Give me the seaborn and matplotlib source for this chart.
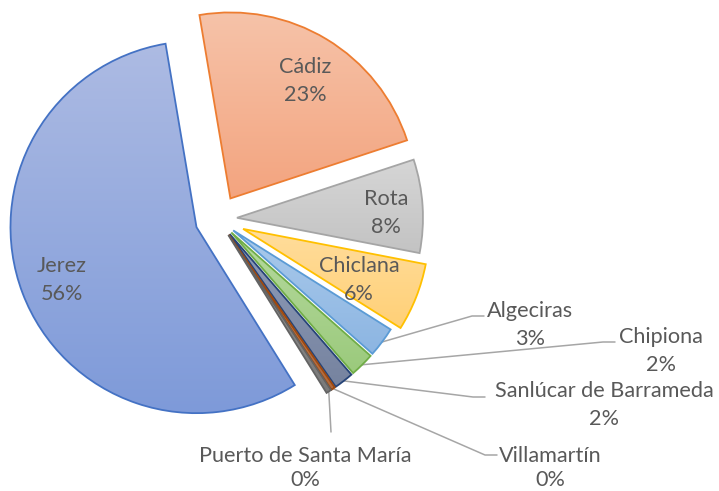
import numpy as np
import seaborn as sns
import matplotlib.pyplot as plt
from matplotlib.colors import LinearSegmentedColormap

# data (Excel order, drawn clockwise starting with Jerez)
cities = ['Jerez', 'Cádiz', 'Rota', 'Chiclana', 'Algeciras', 'Chipiona',
          'Sanlúcar de Barrameda', 'Villamartín', 'Puerto de Santa María']
shares = [56.2, 22.6, 8.1, 5.9, 2.6, 2.1, 1.7, 0.35, 0.45]
explode_px = [23, 24, 19, 27, 19, 19, 19, 19, 19]

edge_colors = ['#4472C4', '#ED7D31', '#A5A5A5', '#FFC000', '#5B9BD5',
               '#70AD47', '#264478', '#9E480E', '#636363']
fill_top = ['#ADBBE3', '#F6C3A9', '#D6D6D6', '#FFDD9C', '#AACAEB',
            '#B6D99F', '#8F9CB9', '#C58A63', '#959595']
fill_bottom = ['#7E9AD9', '#F3A47F', '#C3C3C3', '#FFD077', '#8CB5E2',
               '#9BCA7C', '#76839F', '#B0693C', '#7A7A7A']

# label layout in pixel coords of the 719x491 picture
inside_pos = {'Jerez': (62, 280), 'Cádiz': (305, 81), 'Rota': (386, 213),
              'Chiclana': (359, 280)}
outside_pos = {'Algeciras': (530, 325), 'Chipiona': (661, 351),
               'Sanlúcar de Barrameda': (604, 405), 'Villamartín': (550, 468),
               'Puerto de Santa María': (305, 468)}
leader_path = {'Algeciras': [(472, 316), (484, 316)],
               'Chipiona': [(603, 342), (615, 342)],
               'Sanlúcar de Barrameda': [(473, 397), (485, 397)],
               'Villamartín': [(485, 455), (497, 455)],
               'Puerto de Santa María': [(331, 432)]}
tight_rows = ['Villamartín', 'Puerto de Santa María']

W, H = 719, 491
CENTER = (218, 219)
RADIUS = 186
TEXT = '#595959'
LINE = '#A6A6A6'
FS = 15.6


def px(x, y):
    return x, H - y


def plot_pie():
    sns.set_theme(style="white")
    plt.rcParams['font.family'] = ['Lato', 'DejaVu Sans']

    fig = plt.figure(figsize=(W / 100, H / 100), dpi=100)
    ax = fig.add_axes([0, 0, 1, 1])

    # explode is in data units here (1 unit = 1 pixel)
    wedges, _ = ax.pie(shares,
                       explode=explode_px,
                       center=px(*CENTER),
                       radius=RADIUS,
                       startangle=-58.1,
                       counterclock=False,
                       colors=['none'] * len(shares),
                       wedgeprops={'edgecolor': 'none', 'linewidth': 0})

    total = sum(shares)
    grad = np.linspace(0, 1, 256).reshape(-1, 1)
    for i, w in enumerate(wedges):
        ext = w.get_path().get_extents()
        cmap = LinearSegmentedColormap.from_list('g', [fill_top[i], fill_bottom[i]])
        im = ax.imshow(grad, cmap=cmap, origin='upper', aspect='auto',
                       extent=[ext.x0, ext.x1, ext.y0, ext.y1], zorder=1)
        im.set_clip_path(w)
        w.set_edgecolor(edge_colors[i])
        w.set_linewidth(1.3)
        w.set_zorder(2)

        name = cities[i]
        label = f"{name}\n{round(shares[i] / total * 100):.0f}%"
        ls = 1.3 if name in tight_rows else 1.45
        if name in inside_pos:
            ax.text(*px(*inside_pos[name]), label, ha='center', va='center',
                    fontsize=FS, color=TEXT, linespacing=ls, zorder=5)
        else:
            mid = np.deg2rad((w.theta1 + w.theta2) / 2)
            start = (w.center[0] + RADIUS * np.cos(mid),
                     w.center[1] + RADIUS * np.sin(mid))
            pts = [start] + [px(*p) for p in leader_path[name]]
            xs, ys = zip(*pts)
            ax.plot(xs, ys, color=LINE, linewidth=1.1, zorder=1.5)
            ax.text(*px(*outside_pos[name]), label, ha='center', va='center',
                    fontsize=FS, color=TEXT, linespacing=ls, zorder=5)

    ax.set_xlim(0, W)
    ax.set_ylim(0, H)
    ax.set_aspect('equal')
    ax.axis('off')

    fig.savefig('out.png', dpi=100)
    print("saved out.png")


if __name__ == "__main__":
    plot_pie()
